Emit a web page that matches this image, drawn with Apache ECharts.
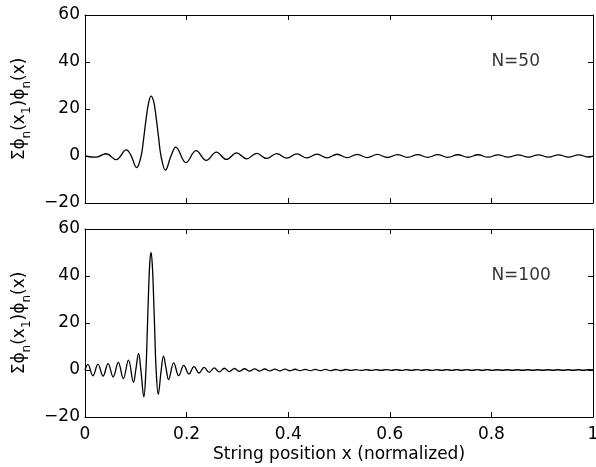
<!DOCTYPE html>
<html>
<head>
<meta charset="utf-8">
<script src="https://cdn.jsdelivr.net/npm/echarts@6/dist/echarts.min.js"></script>
<style>html,body{margin:0;padding:0;background:#fff;overflow:hidden}#c{width:596px;height:467px}</style>
</head>
<body>
<div id="c"></div>
<script>
// ---- data ----
const xTicks = [0, 0.2, 0.4, 0.6, 0.8, 1];
const yTicks = [-20, 0, 20, 40, 60];
const panelLabels = ['N=50', 'N=100'];

const x50 = [0, 0.0215, 0.0413, 0.0613, 0.0813, 0.0904, 0.1017, 0.1102, 0.1152, 0.1201, 0.1251, 0.13,
  0.1350, 0.1399, 0.1449, 0.1498, 0.1583, 0.1696, 0.1787, 0.1987, 0.2187, 0.2386,
  0.2587, 0.2785, 0.2983, 0.3181, 0.3379, 0.3577, 0.3775, 0.3973, 0.4171, 0.4369,
  0.4567, 0.4765, 0.4963, 0.5161, 0.5359, 0.5557, 0.5755, 0.5954, 0.6152, 0.6350,
  0.6548, 0.6746, 0.6944, 0.7142, 0.7340, 0.7538, 0.7736, 0.7934, 0.8132, 0.8330,
  0.8528, 0.8727, 0.8925, 0.9123, 0.9321, 0.9519, 0.9717, 0.9915, 1.0];
const y50 = [0, -0.52, 0.96, -1.57, 2.58, 0.29, -4.92, -0.27, 6.96, 15.48, 22.5, 25.5,
  23.31, 16.64, 7.80, -0.23, -6.05, 0.22, 3.76, -2.79, 2.25, -1.90,
  1.65, -1.47, 1.33, -1.21, 1.12, -1.05, 0.98, -0.93, 0.88, -0.83,
  0.80, -0.76, 0.74, -0.71, 0.69, -0.66, 0.65, -0.63, 0.61, -0.60,
  0.58, -0.57, 0.56, -0.55, 0.54, -0.53, 0.53, -0.52, 0.52, -0.51,
  0.51, -0.50, 0.50, -0.50, 0.49, -0.49, 0.49, -0.49, 0];

const x100 = [0, 0.0056, 0.0156, 0.0255, 0.0355, 0.0454, 0.0555, 0.0655, 0.0755, 0.0855,
  0.0955, 0.1001, 0.1055, 0.1101, 0.1158, 0.1200, 0.1225, 0.1250, 0.1275, 0.13,
  0.1325, 0.1350, 0.1375, 0.1400,
  0.1442, 0.1499, 0.1545, 0.1599, 0.1645, 0.1746, 0.1845, 0.1945,
  0.2046, 0.2146, 0.2245, 0.2345, 0.2444, 0.2544, 0.2643, 0.2743, 0.2842, 0.2942,
  0.3041, 0.3141, 0.3240, 0.3340, 0.3439, 0.3539, 0.3638, 0.3738, 0.3837, 0.3937,
  0.4036, 0.4136, 0.4235, 0.4335, 0.4434, 0.4534, 0.4633, 0.4733, 0.4832, 0.4932,
  0.5031, 0.5131, 0.5230, 0.5330, 0.5429, 0.5529, 0.5628, 0.5728, 0.5827, 0.5927,
  0.6026, 0.6126, 0.6225, 0.6325, 0.6424, 0.6524, 0.6623, 0.6723, 0.6822, 0.6922,
  0.7021, 0.7121, 0.7220, 0.7320, 0.7419, 0.7519, 0.7618, 0.7718, 0.7817, 0.7917,
  0.8016, 0.8116, 0.8215, 0.8315, 0.8414, 0.8514, 0.8613, 0.8713, 0.8812, 0.8912,
  0.9011, 0.9111, 0.9210, 0.9310, 0.9409, 0.9509, 0.9608, 0.9708, 0.9807, 0.9907, 1.0];
const y100 = [0, 2.42, -2.45, 2.51, -2.61, 2.75, -2.96, 3.21, -3.62, 4.24,
  -5.23, 0.28, 7.03, -0.27, -11.45, 0.26, 15.68, 32.58, 45.48, 50.0,
  44.66, 31.42, 14.85, 0.24,
  -10.33, -0.23, 5.88, 0.23, -4.06, 3.05, -2.42, 1.99,
  -1.69, 1.46, -1.27, 1.12, -1.00, 0.90, -0.82, 0.74, -0.68, 0.63,
  -0.58, 0.54, -0.51, 0.47, -0.45, 0.42, -0.40, 0.37, -0.36, 0.34,
  -0.32, 0.31, -0.29, 0.28, -0.27, 0.26, -0.25, 0.24, -0.23, 0.22,
  -0.22, 0.21, -0.20, 0.19, -0.19, 0.18, -0.18, 0.17, -0.17, 0.17,
  -0.16, 0.16, -0.16, 0.15, -0.15, 0.15, -0.14, 0.14, -0.14, 0.13,
  -0.13, 0.13, -0.13, 0.13, -0.12, 0.12, -0.12, 0.12, -0.12, 0.12,
  -0.12, 0.11, -0.11, 0.11, -0.11, 0.11, -0.11, 0.11, -0.11, 0.11,
  -0.11, 0.11, -0.11, 0.11, -0.10, 0.10, -0.10, 0.10, -0.10, 0.10, 0];

// ---- chart ----
const FONT = 'DejaVu Sans';
const zip = (xs, ys) => xs.map((x, i) => [x, ys[i]]);
const minus = v => (v < 0 ? '\u2212' + Math.abs(v) : String(v));
const xMin = xTicks[0], xMax = xTicks[xTicks.length - 1], xInt = xTicks[1] - xTicks[0];
const yMin = yTicks[0], yMax = yTicks[yTicks.length - 1], yInt = yTicks[1] - yTicks[0];

const yName = '{a|\u03A3\u03D5}{s|n}{a|(x}{s|1}{a|)\u03D5}{s|n}{a|(x)}';
const yNameStyle = {
  rich: {
    a: { fontSize: 17, fontFamily: FONT, color: '#000', lineHeight: 27, verticalAlign: 'middle' },
    s: { fontSize: 12, fontFamily: FONT, color: '#000', lineHeight: 12, verticalAlign: 'bottom' }
  }
};

function xAx(grid, pos, labels, name) {
  return {
    type: 'value', gridIndex: grid, position: pos, min: xMin, max: xMax, interval: xInt,
    axisLine: { show: true, onZero: false, lineStyle: { color: '#000', width: 1 } },
    axisTick: { show: true, inside: true, length: 5, lineStyle: { color: '#000', width: 1 } },
    splitLine: { show: false },
    axisLabel: { show: labels, margin: 9, color: '#000', fontSize: 17, fontFamily: FONT },
    name: name || '', nameLocation: 'middle', nameGap: 29,
    nameTextStyle: { color: '#000', fontSize: 17, fontFamily: FONT }
  };
}
function yAx(grid, pos, labels) {
  return {
    type: 'value', gridIndex: grid, position: pos, min: yMin, max: yMax, interval: yInt,
    axisLine: { show: true, onZero: false, lineStyle: { color: '#000', width: 1 } },
    axisTick: { show: true, inside: true, length: 5, lineStyle: { color: '#000', width: 1 } },
    splitLine: { show: false },
    axisLabel: { show: labels, margin: 5, color: '#000', fontSize: 17, fontFamily: FONT, formatter: minus },
    name: labels ? yName : '', nameLocation: 'middle', nameRotate: 90, nameGap: 45,
    nameTextStyle: yNameStyle
  };
}

function curve(xi, yi, data) {
  return {
    type: 'line', xAxisIndex: xi, yAxisIndex: yi, data: data, showSymbol: false, symbol: 'none',
    smooth: 0.4, clip: true,
    lineStyle: { color: '#000', width: 1.3 }, silent: true
  };
}
function note(xi, yi, text) {
  return {
    type: 'scatter', xAxisIndex: xi, yAxisIndex: yi, data: [[0.8, 40]], symbolSize: 0, silent: true,
    label: { show: true, position: 'right', distance: 0, formatter: text, color: '#000', fontSize: 17, fontFamily: FONT }
  };
}

const gridBase = { left: 85, width: 508, height: 188, show: false,
  containLabel: false, outerBoundsMode: 'none' };

const chart = echarts.init(document.getElementById('c'), null, { renderer: 'canvas', width: 596, height: 467 });
chart.setOption({
  animation: false,
  backgroundColor: '#fff',
  grid: [
    Object.assign({ top: 15 }, gridBase),
    Object.assign({ top: 229 }, gridBase)
  ],
  xAxis: [
    xAx(0, 'bottom', false), xAx(0, 'top', false),
    xAx(1, 'bottom', true, 'String position x (normalized)'), xAx(1, 'top', false)
  ],
  yAxis: [
    yAx(0, 'left', true), yAx(0, 'right', false),
    yAx(1, 'left', true), yAx(1, 'right', false)
  ],
  series: [
    curve(0, 0, zip(x50, y50)),
    curve(2, 2, zip(x100, y100)),
    note(0, 0, panelLabels[0]),
    note(2, 2, panelLabels[1])
  ]
});
</script>
</body>
</html>
